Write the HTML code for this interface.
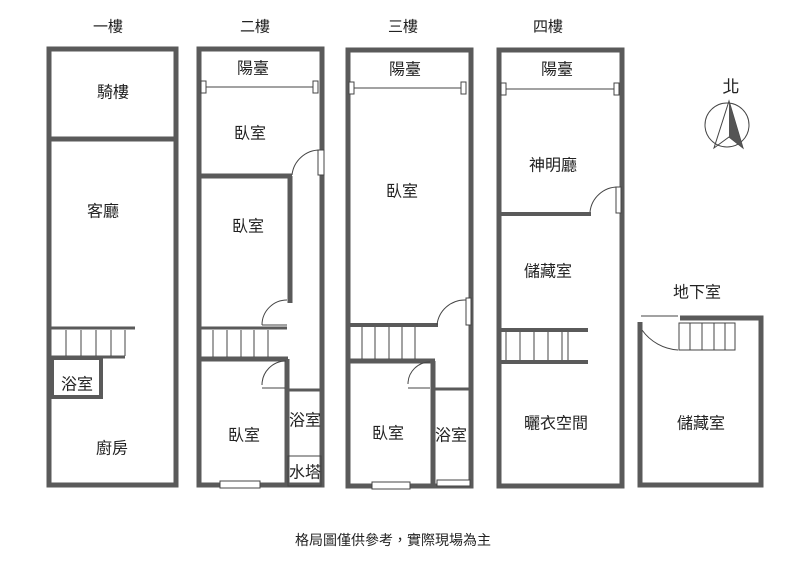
<!DOCTYPE html>
<html><head><meta charset="utf-8"><style>
html,body{margin:0;padding:0;background:#fff;}
svg{display:block;}
text{font-family:"Liberation Sans","Noto Sans CJK TC",sans-serif;fill:#222;text-anchor:middle;dominant-baseline:central;}
</style></head><body>
<svg width="797" height="575" viewBox="0 0 797 575">
<g fill="none" stroke="#5a5a5a" stroke-width="5">
<rect x="49" y="49" width="127" height="436"/>
<line x1="49" y1="139" x2="176" y2="139"/>
<line x1="51" y1="328" x2="135" y2="328" stroke-width="3"/>
<line x1="51" y1="357" x2="125" y2="357" stroke-width="3"/>
<rect x="52" y="358" width="49" height="39" stroke-width="4"/>
<rect x="199" y="49" width="123" height="436"/>
<line x1="199" y1="176" x2="292" y2="176"/>
<line x1="290" y1="176" x2="290" y2="303"/>
<line x1="199" y1="328" x2="287" y2="328" stroke-width="3"/>
<line x1="199" y1="359" x2="288" y2="359"/>
<line x1="287" y1="359" x2="287" y2="485"/>
<line x1="287" y1="390" x2="322" y2="390" stroke-width="3"/>
<rect x="348" y="50" width="123" height="436"/>
<line x1="348" y1="325" x2="438" y2="325" stroke-width="4"/>
<line x1="348" y1="361" x2="435" y2="361"/>
<line x1="433" y1="361" x2="433" y2="486"/>
<line x1="433" y1="389" x2="471" y2="389" stroke-width="3"/>
<rect x="499" y="50" width="123" height="436"/>
<line x1="499" y1="214" x2="591" y2="214" stroke-width="4"/>
<line x1="499" y1="330" x2="588" y2="330" stroke-width="4"/>
<line x1="499" y1="362" x2="588" y2="362" stroke-width="4"/>
<polyline points="680,318 761,318 761,485 640,485 640,322"/>
</g>
<g fill="#fff" stroke="#444" stroke-width="1">
<line x1="204" y1="87" x2="316" y2="87"/><rect x="201" y="81" width="5" height="12"/><rect x="313" y="81" width="5" height="12"/>
<line x1="353" y1="88" x2="465" y2="88"/><rect x="349" y="82" width="5" height="12"/><rect x="461" y="82" width="5" height="12"/>
<line x1="505" y1="89" x2="617" y2="89"/><rect x="501" y="83" width="5" height="12"/><rect x="614" y="83" width="5" height="12"/>
<line x1="66" y1="330" x2="66" y2="356"/><line x1="81" y1="330" x2="81" y2="356"/><line x1="96" y1="330" x2="96" y2="356"/><line x1="111" y1="330" x2="111" y2="356"/><line x1="125" y1="330" x2="125" y2="356"/>
<line x1="213" y1="330" x2="213" y2="357"/><line x1="227" y1="330" x2="227" y2="357"/><line x1="241" y1="330" x2="241" y2="357"/><line x1="254" y1="330" x2="254" y2="357"/><line x1="268" y1="330" x2="268" y2="357"/>
<line x1="362" y1="327" x2="362" y2="359"/><line x1="375" y1="327" x2="375" y2="359"/><line x1="389" y1="327" x2="389" y2="359"/><line x1="402" y1="327" x2="402" y2="359"/><line x1="415" y1="327" x2="415" y2="359"/>
<line x1="506" y1="332" x2="506" y2="360"/><line x1="520" y1="332" x2="520" y2="360"/><line x1="534" y1="332" x2="534" y2="360"/><line x1="548" y1="332" x2="548" y2="360"/><line x1="562" y1="332" x2="562" y2="360"/><line x1="568" y1="332" x2="568" y2="360"/>
<rect x="679" y="323" width="56" height="27"/><line x1="690" y1="323" x2="690" y2="350"/><line x1="702" y1="323" x2="702" y2="350"/><line x1="714" y1="323" x2="714" y2="350"/><line x1="725" y1="323" x2="725" y2="350"/>
<rect x="318" y="150" width="6" height="25"/><path d="M292 175 A28 28 0 0 1 320 150" fill="none"/>
<path d="M262 325 A25 25 0 0 1 287 300" fill="none"/><line x1="262" y1="325" x2="287" y2="325"/>
<path d="M262 385 A24 24 0 0 1 286 361" fill="none"/><line x1="262" y1="388" x2="285" y2="388"/>
<path d="M437 325 A28 28 0 0 1 466 300" fill="none"/><rect x="466" y="298" width="5" height="27"/>
<path d="M408 384 A22 22 0 0 1 430 362" fill="none"/><line x1="408" y1="388" x2="430" y2="388"/>
<path d="M590 212 A28 28 0 0 1 618 187" fill="none"/><rect x="616" y="187" width="5" height="26"/>
<path d="M642 330 A48 48 0 0 0 678 350" fill="none"/><line x1="641" y1="316" x2="678" y2="316"/>
<rect x="220" y="481" width="40" height="7"/>
<rect x="372" y="482" width="38" height="7"/>
<rect x="437" y="480" width="33" height="6"/>
<rect x="288" y="456" width="33" height="30" fill="none"/>
</g>
<circle cx="727" cy="125" r="22" fill="none" stroke="#444" stroke-width="1"/>
<polygon points="729,101 714,148 729,137 743,148" fill="none" stroke="#444" stroke-width="1"/>
<polygon points="729,101 729,137 743,148" fill="#555"/>
<g font-size="16">
<text x="108" y="27" font-size="15">一樓</text><text x="255" y="27" font-size="15">二樓</text><text x="403" y="27" font-size="15">三樓</text><text x="548" y="27" font-size="15">四樓</text>
<text x="731" y="87" font-size="17">北</text>
<text x="113" y="93">騎樓</text><text x="103" y="212">客廳</text><text x="77" y="385">浴室</text><text x="112" y="449">廚房</text>
<text x="253" y="69">陽臺</text><text x="250" y="134">臥室</text><text x="248" y="227">臥室</text><text x="244" y="436">臥室</text><text x="305" y="421">浴室</text><text x="305" y="473">水塔</text>
<text x="405" y="70">陽臺</text><text x="402" y="192">臥室</text><text x="388" y="434">臥室</text><text x="451" y="436">浴室</text>
<text x="557" y="70">陽臺</text><text x="553" y="166">神明廳</text><text x="548" y="272">儲藏室</text><text x="556" y="424">曬衣空間</text>
<text x="697" y="293">地下室</text><text x="701" y="424">儲藏室</text>
<text x="393" y="540" font-size="14">格局圖僅供參考，實際現場為主</text>
</g>
</svg>
</body></html>
